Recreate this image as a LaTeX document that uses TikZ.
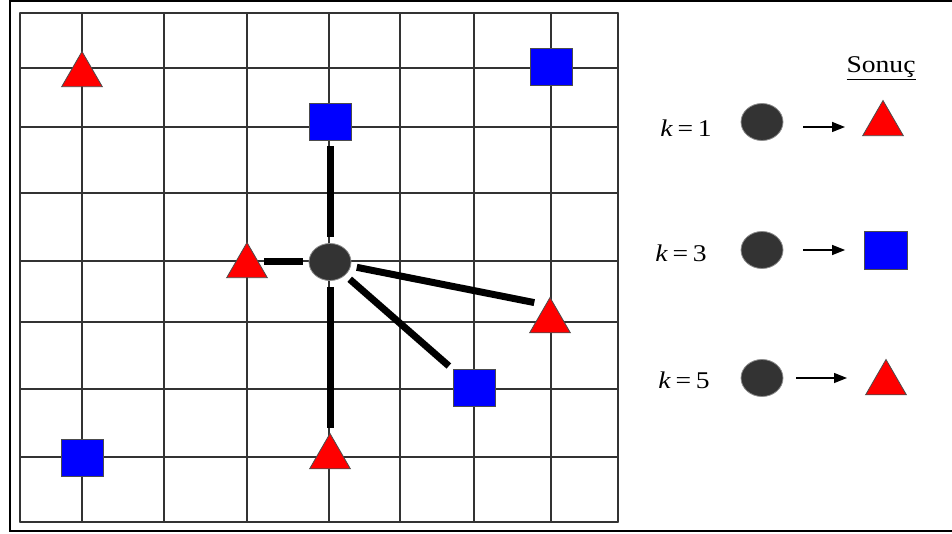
\documentclass[tikz,border=0pt]{standalone}
\usepackage{fontspec}
\setmainfont{Liberation Serif}
\usetikzlibrary{shapes.geometric,arrows.meta}
\definecolor{dotgray}{RGB}{51,51,51}
\newcommand\wider[1]{\scalebox{1.15}[1]{#1}}
\begin{document}
\begin{tikzpicture}[x=1pt,y=-1pt,
  gridline/.style={line width=1.4pt,black!80,line cap=round},
  tri/.style={regular polygon,regular polygon sides=3,minimum size=47pt,inner sep=0pt,fill=red,draw=black!70,line width=0.8pt},
  sq/.style={rectangle,minimum width=42pt,minimum height=37pt,inner sep=0pt,fill=blue,draw=black!70,line width=0.8pt},
  query/.style={ellipse,minimum width=42pt,minimum height=37pt,inner sep=0pt,fill=dotgray,draw=black!45,line width=0.8pt},
  link/.style={line width=7pt,shorten <=6pt,shorten >=5pt},
  res/.style={line width=1.4pt,-{Triangle[length=13pt,width=10pt]}},
  lbl/.style={font=\fontsize{24}{28}\selectfont,inner sep=0pt,anchor=base}]
  \useasboundingbox (0,0) rectangle (952,534);
  \draw[line width=2pt] (10,1) rectangle (975,531); % outer frame
  % grid
  \foreach \x in {20,82,164,247,329,400,474,551,618}
    \draw[gridline] (\x,13) -- (\x,522);
  \foreach \y in {13,68,127,193,261,322,389,457,522}
    \draw[gridline] (20,\y) -- (618,\y);
  % points
  \node[tri] (t1) at (82,75) {};
  \node[sq] (s1) at (330,122) {};
  \node[sq] (s2) at (551,67) {};
  \node[tri] (t2) at (247,266) {};
  \node[query] (q) at (330,262) {};
  \node[tri] (t3) at (550,321) {};
  \node[sq] (s4) at (474,388) {};
  \node[sq] (s3) at (82,458) {};
  \node[tri] (t4) at (330,457) {};
  % nearest neighbours
  \draw[link] (q) -- (s1);
  \draw[link,shorten >=17pt] (q) -- (q -| t2);
  \draw[link,shorten >=16pt] (q) -- ([yshift=-9pt]t3.corner 1);
  \draw[link] (q) -- (s4);
  \draw[link] (q) -- (t4);
  % result
  \node[lbl] (title) at (881,73) {\wider{\underline{Sonuç}}};
  \node[lbl] (k1) at (686,137) {\wider{\textit{k}\,=\,1}};
  \node[query] (c1) at (762,122) {};
  \node[tri] (r1) at (883,124) {};
  \draw[res,shorten <=20pt,shorten >=38pt] ([yshift=-5pt]c1.east) -- ([yshift=-5pt]c1 -| r1);
  \node[lbl] (k3) at (681,262) {\wider{\textit{k}\,=\,3}};
  \node[query] (c3) at (762,250) {};
  \node[sq,minimum width=43pt,minimum height=38pt] (r3) at (886,250) {};
  \draw[res,shorten <=20pt,shorten >=19pt] (c3) -- (r3);
  \node[lbl] (k5) at (684,388) {\wider{\textit{k}\,=\,5}};
  \node[query] (c5) at (762,378) {};
  \node[tri] (r5) at (886,383) {};
  \draw[res,shorten <=13pt,shorten >=39pt] (c5) -- (c5 -| r5);
\end{tikzpicture}
\end{document}
